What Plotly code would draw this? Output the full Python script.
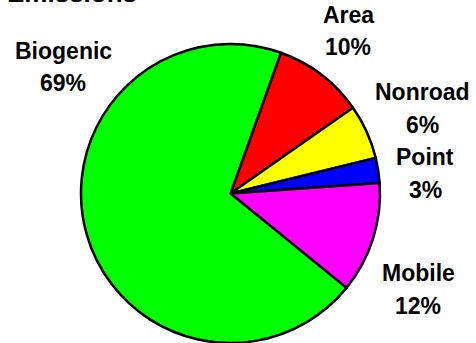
import plotly.graph_objects as go

labels = ["Area", "Nonroad", "Point", "Mobile", "Biogenic"]
values = [9.8, 5.9, 2.7, 12.0, 69.6]
pct_text = ["10%", "6%", "3%", "12%", "69%"]
colors = ["#ff0000", "#ffff00", "#0000ff", "#ff00ff", "#00ff00"]
# label centre positions in pixels (x, y of name line, y of percent line)
label_pos = {
    "Area": (348, 15.5, 47),
    "Nonroad": (422.5, 91.5, 124.5),
    "Point": (425, 157.5, 190),
    "Mobile": (418, 273, 306),
    "Biogenic": (63, 51.3, 83),
}

W, H = 476, 343
cx, cy, r = 230.5, 193.5, 149.5

fig = go.Figure(go.Pie(
    labels=labels, values=values, sort=False, direction="clockwise",
    rotation=19.7, textinfo="none", hoverinfo="label+percent",
    marker=dict(colors=colors, line=dict(color="black", width=2.5)),
    domain=dict(x=[(cx - r) / W, (cx + r) / W],
                y=[max(0.0, 1 - (cy + r) / H), min(1.0, 1 - (cy - r) / H)]),
    showlegend=False,
))

font = dict(family="Liberation Sans, Arial, sans-serif", size=23, color="black")
anns = []
for name, pct in zip(labels, pct_text):
    x, y1, y2 = label_pos[name]
    for txt, yy in ((name, y1), (pct, y2)):
        anns.append(dict(text=f"<b>{txt}</b>", x=x / W, y=1 - yy / H, xref="paper", yref="paper",
                         xanchor="center", yanchor="middle", showarrow=False, font=font))
anns.append(dict(text="<b>Emissions</b>", x=5 / W, y=1 - 9.5 / H, xref="paper", yref="paper",
                 xanchor="left", yanchor="bottom", showarrow=False,
                 font=dict(family="Liberation Sans, Arial, sans-serif", size=26, color="black")))

fig.update_layout(width=W, height=H, margin=dict(l=0, r=0, t=0, b=0),
                  paper_bgcolor="white", plot_bgcolor="white", annotations=anns)
fig.write_html("out.html")
